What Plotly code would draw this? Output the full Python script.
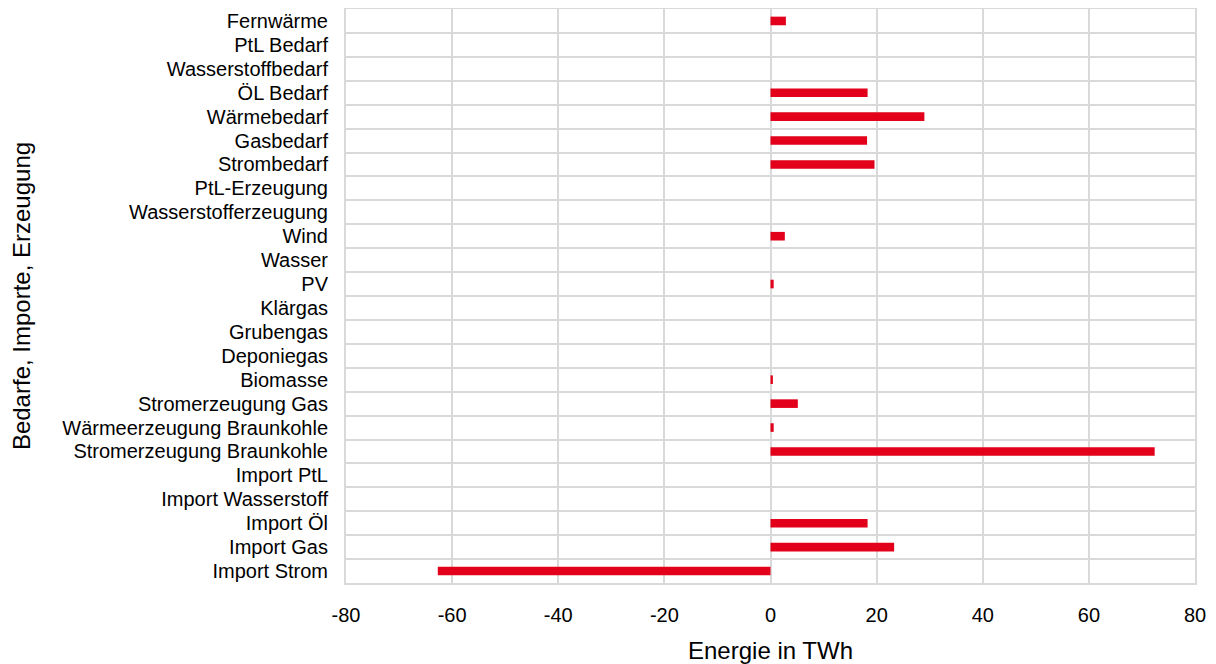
import plotly.graph_objects as go

categories = [
    "Import Strom", "Import Gas", "Import Öl", "Import Wasserstoff", "Import PtL",
    "Stromerzeugung Braunkohle", "Wärmeerzeugung Braunkohle", "Stromerzeugung Gas",
    "Biomasse", "Deponiegas", "Grubengas", "Klärgas", "PV", "Wasser", "Wind",
    "Wasserstofferzeugung", "PtL-Erzeugung", "Strombedarf", "Gasbedarf",
    "Wärmebedarf", "ÖL Bedarf", "Wasserstoffbedarf", "PtL Bedarf", "Fernwärme",
]
values = [
    -62.7, 23.3, 18.3, 0, 0,
    72.4, 0.6, 5.15,
    0.45, 0, 0, 0, 0.6, 0, 2.7,
    0, 0, 19.6, 18.2,
    29.0, 18.3, 0, 0, 2.9,
]
x_ticks = [-80, -60, -40, -20, 0, 20, 40, 60, 80]

fig = go.Figure(go.Bar(
    x=values, y=categories, orientation="h",
    marker=dict(color="#E3001B", line=dict(width=0)),
    width=0.36,
))

font_family = "Liberation Sans, Arial, sans-serif"
grid = "#D9D9D9"
fig.update_layout(
    width=1208, height=656,
    margin=dict(l=338, r=21, t=1, b=81),
    paper_bgcolor="white", plot_bgcolor="white",
    font=dict(family=font_family, color="#000000"),
    showlegend=False,
    xaxis=dict(
        range=[-80, 80], tickvals=x_ticks, ticktext=[str(v) for v in x_ticks],
        showgrid=True, gridcolor=grid, gridwidth=2,
        zeroline=True, zerolinecolor=grid, zerolinewidth=2,
        showline=True, linecolor=grid, linewidth=2, mirror=True,
        ticks="", tickfont=dict(size=20),
        ticklabelstandoff=13, automargin=False,
        title=dict(text="Energie in TWh", font=dict(size=24), standoff=19),
    ),
    yaxis=dict(
        type="category", categoryorder="array", categoryarray=categories,
        tickmode="linear", tick0=0, dtick=1,
        tickson="boundaries", showgrid=True, gridcolor=grid, gridwidth=2,
        showline=True, linecolor=grid, linewidth=2, mirror=True,
        ticks="", tickfont=dict(size=20),
        ticklabelstandoff=12, automargin=False,
        range=[-0.5, len(categories) - 0.5],
        title=dict(text="Bedarfe, Importe, Erzeugung", font=dict(size=24), standoff=33),
    ),
)

fig.write_html("out.html")
